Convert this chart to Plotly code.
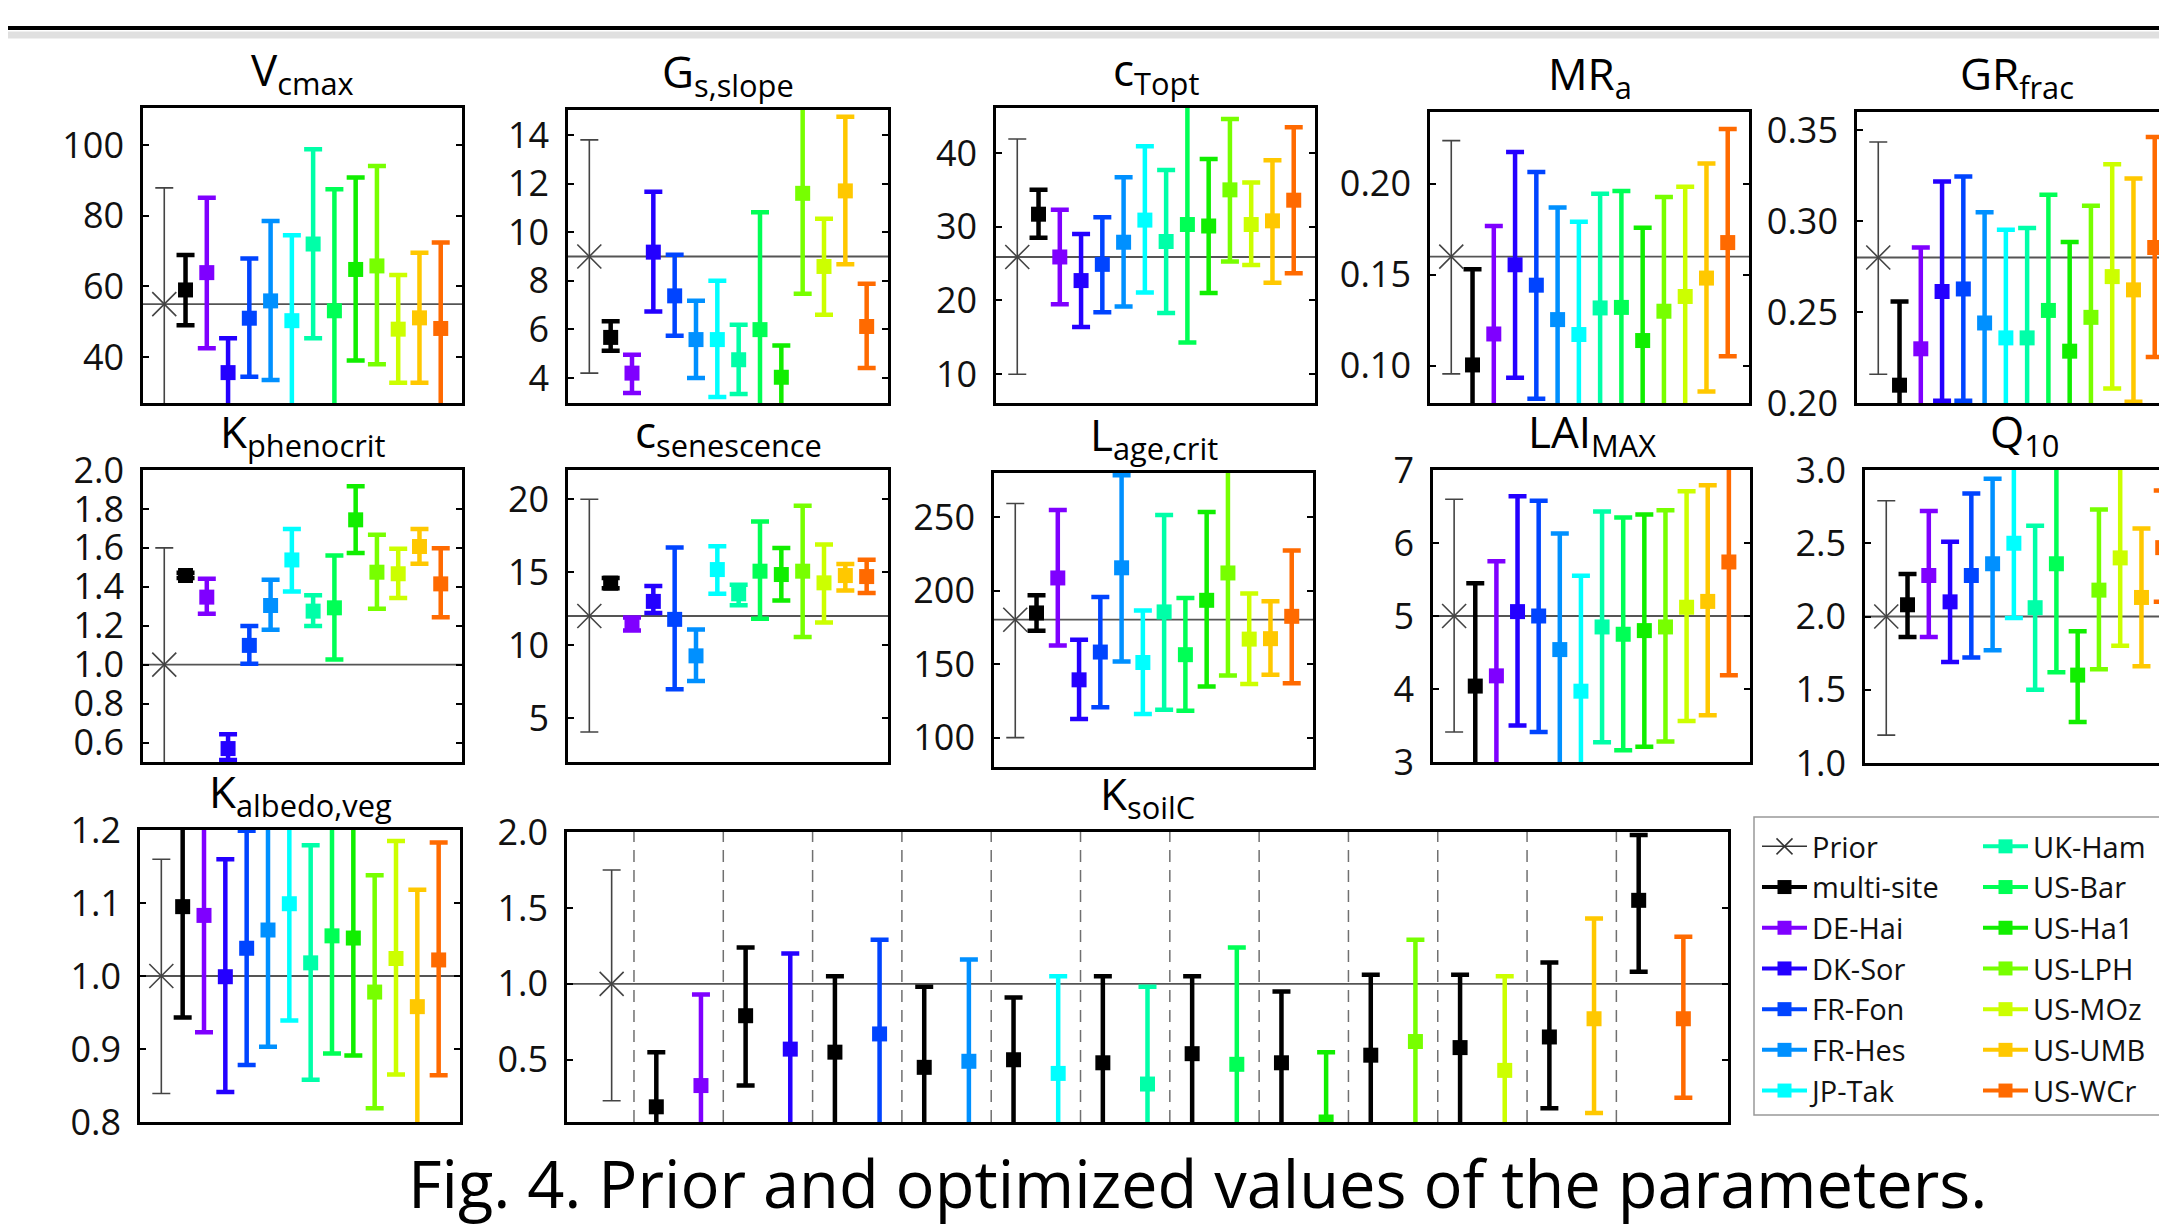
import plotly.graph_objects as go

W, H = 2167, 1227          # target picture size
OFF = 8                    # default page (body) margin around the plot div
FW, FH = W - OFF, H - OFF  # figure size so that the plot ends at the window edge

# ---------------- data ----------------
sites = ["Prior", "multi-site", "DE-Hai", "DK-Sor", "FR-Fon", "FR-Hes", "JP-Tak",
         "UK-Ham", "US-Bar", "US-Ha1", "US-LPH", "US-MOz", "US-UMB", "US-WCr"]
site_colors = ["#444444", "#000000", "#7f00ff", "#2400ff", "#0044ff", "#0090ff", "#00ffff",
               "#00ffa8", "#00ff55", "#11ee00", "#77ff00", "#ccff00", "#ffc800", "#ff6a00"]

vcmax_mid = [55.0, 59.0, 63.9, 35.6, 51.0, 55.9, 50.3, 72.0, 53.1, 64.8, 65.8, 47.9, 51.1, 48.1]
vcmax_lo = [20.0, 49.0, 42.5, 24.0, 34.4, 33.5, 24.0, 45.3, 24.0, 39.0, 38.0, 32.7, 32.7, 24.0]
vcmax_hi = [87.9, 68.9, 85.1, 45.3, 67.9, 78.5, 74.5, 98.8, 87.5, 90.8, 94.1, 63.2, 69.5, 72.4]

gs_mid = [9.0, 5.67, 4.2, 9.18, 7.38, 5.58, 5.58, 4.75, 5.99, 4.03, 11.6, 8.59, 11.7, 6.12]
gs_lo = [4.2, 5.12, 3.38, 6.74, 5.74, 4.0, 3.22, 3.34, 2.5, 2.5, 7.47, 6.6, 8.68, 4.41]
gs_hi = [13.8, 6.33, 4.96, 11.67, 9.07, 7.18, 8.0, 6.19, 10.82, 5.34, 15.6, 10.55, 14.75, 7.88]

ctopt_mid = [25.9, 31.7, 25.9, 22.7, 24.9, 27.9, 30.9, 28.0, 30.3, 30.1, 35.0, 30.3, 30.8, 33.6]
ctopt_lo = [10.0, 28.5, 19.5, 16.4, 18.4, 19.2, 21.1, 18.3, 14.3, 21.0, 25.3, 24.8, 22.4, 23.7]
ctopt_hi = [41.9, 35.0, 32.3, 29.0, 31.3, 36.7, 40.9, 37.7, 47.5, 39.2, 44.6, 36.0, 39.0, 43.5]

mra_mid = [0.160, 0.1005, 0.1175, 0.1555, 0.1443, 0.1254, 0.1172, 0.1318, 0.1321, 0.1139, 0.1300, 0.1381, 0.1482, 0.1677]
mra_lo = [0.0956, 0.070, 0.070, 0.0934, 0.082, 0.070, 0.070, 0.070, 0.070, 0.070, 0.070, 0.070, 0.0859, 0.1053]
mra_hi = [0.2237, 0.153, 0.1768, 0.2175, 0.2064, 0.1869, 0.1792, 0.1945, 0.196, 0.1759, 0.1927, 0.1984, 0.2111, 0.2301]

grfrac_mid = [0.280, 0.2098, 0.2298, 0.2613, 0.2627, 0.2440, 0.2358, 0.2358, 0.2509, 0.2285, 0.2471, 0.2695, 0.2622, 0.2855]
grfrac_lo = [0.2158, 0.190, 0.190, 0.2013, 0.2013, 0.190, 0.190, 0.190, 0.190, 0.190, 0.190, 0.208, 0.2007, 0.2253]
grfrac_hi = [0.3435, 0.2558, 0.2855, 0.3218, 0.3245, 0.3049, 0.2953, 0.2962, 0.3145, 0.2885, 0.3085, 0.3313, 0.3235, 0.3462]

kpheno_mid = [1.0, 1.458, 1.347, 0.569, 1.099, 1.304, 1.538, 1.275, 1.292, 1.744, 1.475, 1.467, 1.607, 1.415]
kpheno_lo = [0.40, 1.445, 1.262, 0.510, 1.005, 1.179, 1.376, 1.198, 1.026, 1.574, 1.287, 1.342, 1.518, 1.244]
kpheno_hi = [1.60, 1.472, 1.441, 0.643, 1.198, 1.436, 1.697, 1.356, 1.561, 1.916, 1.667, 1.595, 1.697, 1.598]

csen_mid = [12.0, 14.25, 11.48, 13.0, 11.77, 9.27, 15.18, 13.52, 15.07, 14.84, 15.07, 14.27, 14.77, 14.7]
csen_lo = [4.05, 13.9, 11.0, 12.2, 6.98, 7.55, 13.52, 12.73, 11.82, 13.07, 10.57, 11.55, 13.75, 13.57]
csen_hi = [20.0, 14.6, 11.9, 14.05, 16.7, 11.07, 16.77, 14.14, 18.48, 16.66, 19.55, 16.89, 15.57, 15.86]

lage_mid = [180.2, 184.8, 208.6, 139.3, 158.2, 215.5, 151.1, 185.5, 156.4, 193.4, 212.0, 167.0, 167.3, 182.5]
lage_lo = [100.0, 172.7, 162.7, 112.7, 120.7, 151.8, 116.1, 118.9, 118.2, 134.8, 142.3, 136.4, 142.7, 137.0]
lage_hi = [259.3, 196.8, 254.8, 166.6, 195.7, 278.4, 186.4, 251.4, 195.0, 253.4, 290.0, 198.0, 192.7, 227.3]

lai_mid = [5.0, 4.04, 4.18, 5.06, 5.0, 4.54, 3.97, 4.85, 4.75, 4.8, 4.85, 5.12, 5.2, 5.74]
lai_lo = [3.41, 2.8, 2.8, 3.5, 3.41, 2.8, 2.8, 3.27, 3.16, 3.21, 3.28, 3.56, 3.64, 4.19]
lai_hi = [6.6, 5.45, 5.75, 6.64, 6.58, 6.13, 5.55, 6.43, 6.35, 6.39, 6.45, 6.71, 6.79, 7.3]

q10_mid = [2.0, 2.08, 2.28, 2.10, 2.28, 2.36, 2.50, 2.06, 2.36, 1.60, 2.18, 2.40, 2.13, 2.47]
q10_lo = [1.19, 1.86, 1.86, 1.69, 1.72, 1.77, 1.99, 1.50, 1.62, 1.28, 1.64, 1.80, 1.66, 2.10]
q10_hi = [2.79, 2.29, 2.72, 2.51, 2.84, 2.94, 3.20, 2.62, 3.20, 1.90, 2.73, 3.20, 2.60, 2.86]

kalb_mid = [1.0, 1.095, 1.083, 0.999, 1.038, 1.063, 1.099, 1.018, 1.055, 1.052, 0.978, 1.024, 0.958, 1.022]
kalb_lo = [0.839, 0.943, 0.923, 0.841, 0.878, 0.903, 0.939, 0.858, 0.894, 0.891, 0.819, 0.865, 0.780, 0.864]
kalb_hi = [1.160, 1.250, 1.250, 1.160, 1.199, 1.250, 1.250, 1.179, 1.250, 1.250, 1.138, 1.185, 1.118, 1.183]

# K_soilC: prior, multi-site value for each site's soil, and site-level value
ksoil_prior = [1.0, 0.23, 1.75]   # mid, lo, hi
ksoil_multi_mid = [0.19, 0.79, 0.55, 0.45, 0.50, 0.48, 0.54, 0.48, 0.53, 0.58, 0.65, 1.55]
ksoil_multi_lo = [0.0, 0.33, 0.0, 0.0, 0.0, 0.0, 0.0, 0.0, 0.0, 0.0, 0.18, 1.08]
ksoil_multi_hi = [0.55, 1.24, 1.05, 0.98, 0.91, 1.05, 1.05, 0.95, 1.06, 1.06, 1.14, 1.98]
ksoil_site_mid = [0.33, 0.57, 0.67, 0.49, 0.41, 0.34, 0.47, 0.09, 0.62, 0.43, 0.77, 0.77]
ksoil_site_lo = [0.0, 0.0, 0.0, 0.0, 0.0, 0.0, 0.0, 0.0, 0.0, 0.0, 0.15, 0.25]
ksoil_site_hi = [0.93, 1.20, 1.29, 1.16, 1.05, 0.98, 1.24, 0.55, 1.29, 1.05, 1.43, 1.31]

caption = "Fig. 4. Prior and optimized values of the parameters."

# ---------------- layout config ----------------
FONT = "Open Sans"


def PX(px):   # window x pixel -> paper fraction
    return (px - OFF) / FW


def PY(py):   # window y pixel (from top) -> paper fraction
    return 1 - (py - OFF) / FH


panels = [
    dict(t="V<sub>cmax</sub>", d=(vcmax_mid, vcmax_lo, vcmax_hi), r=[27, 110.5], tv=[40, 60, 80, 100], f="d", box=(143, 462, 108, 403)),
    dict(t="G<sub>s,slope</sub>", d=(gs_mid, gs_lo, gs_hi), r=[2.97, 15.03], tv=[4, 6, 8, 10, 12, 14], f="d", box=(568, 888, 110, 403)),
    dict(t="c<sub>Topt</sub>", d=(ctopt_mid, ctopt_lo, ctopt_hi), r=[6.1, 46.1], tv=[10, 20, 30, 40], f="d", box=(996, 1315, 108, 403)),
    dict(t="MR<sub>a</sub>", d=(mra_mid, mra_lo, mra_hi), r=[0.0796, 0.2394], tv=[0.10, 0.15, 0.20], f=".2f", box=(1430, 1749, 112, 403)),
    dict(t="GR<sub>frac</sub>", d=(grfrac_mid, grfrac_lo, grfrac_hi), r=[0.2, 0.36], tv=[0.20, 0.25, 0.30, 0.35], f=".2f", box=(1857, 2176, 112, 403)),
    dict(t="K<sub>phenocrit</sub>", d=(kpheno_mid, kpheno_lo, kpheno_hi), r=[0.5, 2.0], tv=[0.6, 0.8, 1.0, 1.2, 1.4, 1.6, 1.8, 2.0], f=".1f", box=(143, 462, 470, 762)),
    dict(t="c<sub>senescence</sub>", d=(csen_mid, csen_lo, csen_hi), r=[2, 22], tv=[5, 10, 15, 20], f="d", box=(568, 888, 470, 762)),
    dict(t="L<sub>age,crit</sub>", d=(lage_mid, lage_lo, lage_hi), r=[80, 280], tv=[100, 150, 200, 250], f="d", box=(994, 1313, 473, 767)),
    dict(t="LAI<sub>MAX</sub>", d=(lai_mid, lai_lo, lai_hi), r=[3, 7], tv=[3, 4, 5, 6, 7], f="d", box=(1433, 1750, 470, 762)),
    dict(t="Q<sub>10</sub>", d=(q10_mid, q10_lo, q10_hi), r=[1, 3], tv=[1.0, 1.5, 2.0, 2.5, 3.0], f=".1f", box=(1865, 2184, 470, 763)),
    dict(t="K<sub>albedo,veg</sub>", d=(kalb_mid, kalb_lo, kalb_hi), r=[0.8, 1.2], tv=[0.8, 0.9, 1.0, 1.1, 1.2], f=".1f", box=(140, 460, 830, 1122)),
    dict(t="K<sub>soilC</sub>", d=None, r=[0.09, 2.0], tv=[0.5, 1.0, 1.5, 2.0], f=".1f", box=(567, 1728, 832, 1122)),
]

fig = go.Figure()
layout = dict(template="none", width=FW, height=FH, autosize=False,
              margin=dict(l=0, r=0, t=0, b=0, pad=0),
              paper_bgcolor="white", plot_bgcolor="white", showlegend=True,
              font=dict(family=FONT, color="black"))
shapes, annotations = [], []


def ax_suffix(k):
    return "" if k == 1 else str(k)


def eb(mid, lo, hi, color, thick, width):
    return dict(type="data", symmetric=False,
                array=[h - m for m, h in zip(mid, hi)],
                arrayminus=[m - l for m, l in zip(mid, lo)],
                color=color, thickness=thick, width=width)


def add_point(k, xs, mid, lo, hi, j):
    s = ax_suffix(k)
    if j == 0:
        marker = dict(symbol="x-thin-open", size=24, color=site_colors[0],
                      line=dict(width=1.6, color=site_colors[0]))
        err = eb(mid, lo, hi, site_colors[0], 1.6, 9)
    else:
        marker = dict(symbol="square", size=15, color=site_colors[j], line=dict(width=0))
        err = eb(mid, lo, hi, site_colors[j], 4.5, 9)
    fig.add_trace(go.Scatter(x=xs, y=mid, mode="markers", marker=marker, error_y=err,
                             xaxis="x" + s, yaxis="y" + s, showlegend=False,
                             name=sites[j], legendgroup=sites[j]))


for k, p in enumerate(panels, start=1):
    s = ax_suffix(k)
    x0, x1, y0, y1 = p["box"]
    cut = x1 > W
    n_pos = 26 if p["d"] is None else 15
    xmax = n_pos * (min(x1, W) - x0) / (x1 - x0)
    layout["xaxis" + s] = dict(domain=[PX(x0), min(PX(x1), 1.0)], range=[0, xmax], anchor="y" + s,
                               showline=True, linecolor="black", linewidth=2.5, mirror=True,
                               ticks="", showticklabels=False, showgrid=False, zeroline=False,
                               automargin=False)
    layout["yaxis" + s] = dict(domain=[PY(y1), PY(y0)], range=p["r"], anchor="x" + s,
                               showline=True, linecolor="black", linewidth=2.5,
                               mirror=(False if cut else "ticks"),
                               ticks="inside", ticklen=6, tickwidth=2, tickcolor="black",
                               tickvals=p["tv"], tickformat=p["f"],
                               tickfont=dict(family=FONT, size=36, color="#111"),
                               ticklabelstandoff=9, showgrid=False, zeroline=False,
                               automargin=False)
    # title centred over the (full, possibly cut) box
    annotations.append(dict(text=p["t"], xref="paper", yref="paper",
                            x=PX(x0 + (x1 - x0) / 2), y=PY(y0 - 2),
                            xanchor="center", yanchor="bottom",
                            showarrow=False, font=dict(family=FONT, size=44, color="black")))
    if p["d"] is not None:
        mid, lo, hi = p["d"]
        shapes.append(dict(type="line", xref="x" + s + " domain", yref="y" + s,
                           x0=0, x1=1, y0=mid[0], y1=mid[0],
                           line=dict(color="#555555", width=1.8), layer="below"))
        for j in range(len(sites)):
            add_point(k, [j + 1], [mid[j]], [lo[j]], [hi[j]], j)
    else:
        pm, pl, ph = ksoil_prior
        shapes.append(dict(type="line", xref="x" + s + " domain", yref="y" + s,
                           x0=0, x1=1, y0=pm, y1=pm,
                           line=dict(color="#555555", width=1.8), layer="below"))
        add_point(k, [1], [pm], [pl], [ph], 0)
        n = len(ksoil_multi_mid)
        add_point(k, [2 * i + 2 for i in range(n)], ksoil_multi_mid, ksoil_multi_lo, ksoil_multi_hi, 1)
        for i in range(n):
            add_point(k, [2 * i + 3], [ksoil_site_mid[i]], [ksoil_site_lo[i]], [ksoil_site_hi[i]], i + 2)
        for i in range(n):
            shapes.append(dict(type="line", xref="x" + s, yref="y" + s + " domain",
                               x0=2 * i + 1.5, x1=2 * i + 1.5, y0=0, y1=1,
                               line=dict(color="#707070", width=1.5, dash="12px,8px"), layer="below"))

# legend entries (two columns)
for j, name in enumerate(sites):
    if j == 0:
        line = dict(color="#333333", width=1.5)
        marker = dict(symbol="x-thin-open", size=16, color="#333333", line=dict(width=1.5, color="#333333"))
    else:
        line = dict(color=site_colors[j], width=4)
        marker = dict(symbol="square", size=14, color=site_colors[j])
    fig.add_trace(go.Scatter(x=[None], y=[None], mode="lines+markers", name=name,
                             line=line, marker=marker, xaxis="x", yaxis="y",
                             legend="legend" if j < 7 else "legend2", showlegend=True))

leg_common = dict(yanchor="top", xanchor="left", bgcolor="rgba(0,0,0,0)", borderwidth=0,
                  font=dict(family=FONT, size=29, color="#111"), tracegroupgap=0, itemwidth=45)
layout["legend"] = dict(x=PX(1757), y=PY(821), **leg_common)
layout["legend2"] = dict(x=PX(1978), y=PY(821), **leg_common)
shapes.append(dict(type="rect", xref="paper", yref="paper", x0=PX(1754), x1=1.05,
                   y0=PY(1115), y1=PY(817), line=dict(color="#999999", width=1.5)))

# top rule of the page
shapes.append(dict(type="line", xref="paper", yref="paper", x0=-0.01, x1=1.01,
                   y0=PY(35), y1=PY(35), line=dict(color="rgba(0,0,0,0.12)", width=7)))
shapes.append(dict(type="line", xref="paper", yref="paper", x0=-0.01, x1=1.01,
                   y0=PY(28), y1=PY(28), line=dict(color="black", width=4)))

annotations.append(dict(text=caption, xref="paper", yref="paper", x=PX(1197), y=PY(1183),
                        xanchor="center", yanchor="middle", showarrow=False,
                        font=dict(family=FONT, size=65, color="black")))

layout["shapes"] = shapes
layout["annotations"] = annotations
fig.update_layout(**layout)
fig.write_html("out.html")
